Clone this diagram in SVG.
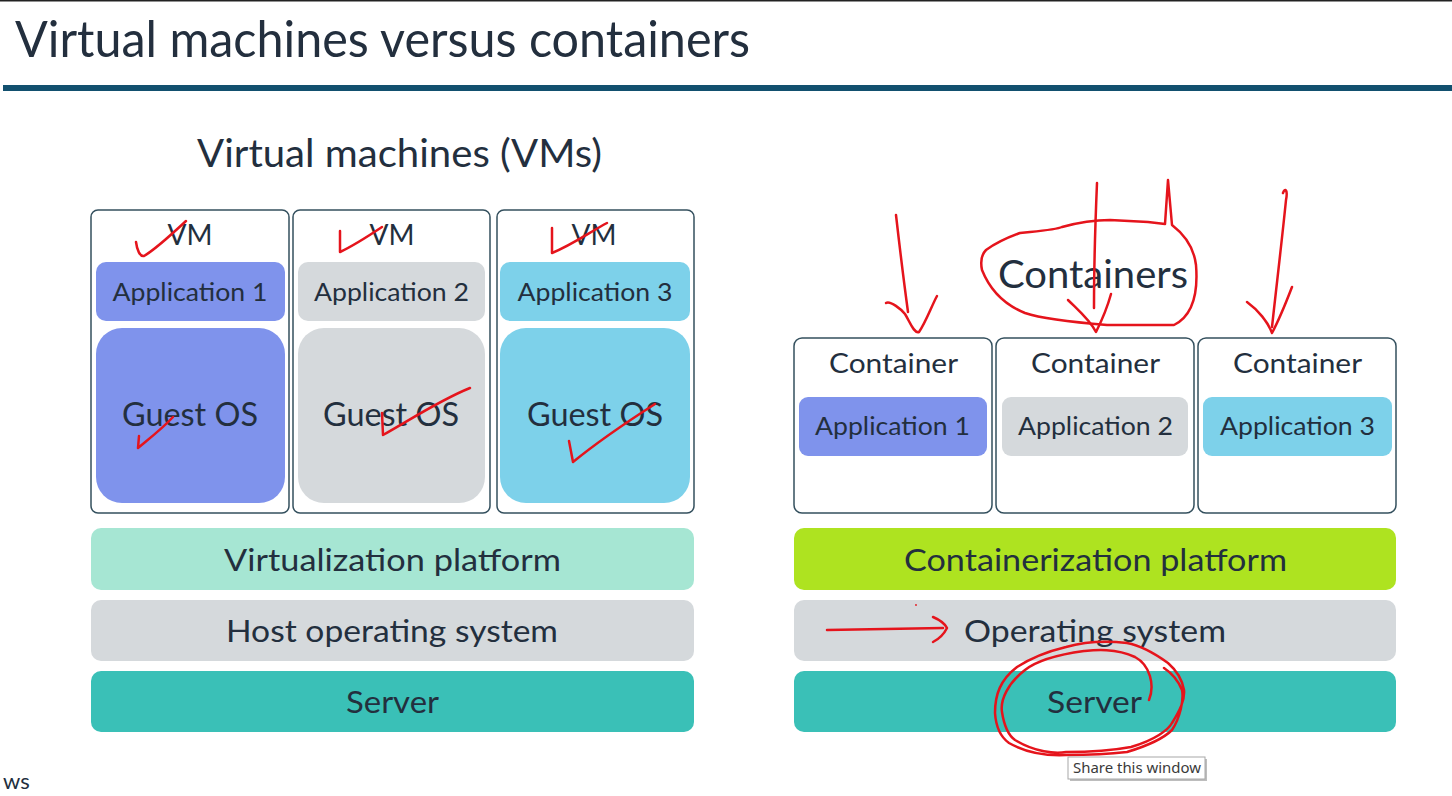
<svg xmlns="http://www.w3.org/2000/svg" width="1452" height="796" viewBox="0 0 1452 796">
  <style>
    .t { font-family: Lato, "Open Sans", "Liberation Sans", sans-serif; fill: #232f3e; }
    .frame { fill: #ffffff; stroke: #34505e; stroke-width: 1.5; }
    .blue { fill: #7f93ec; }
    .gray { fill: #d5d9dc; }
    .cyan { fill: #7dd1ea; }
    .mint { fill: #a6e6d3; }
    .teal { fill: #3ac0b7; }
    .lime { fill: #aee320; }
    .ink { fill: none; stroke: #e5141c; stroke-width: 2.5; stroke-linecap: round; stroke-linejoin: round; }
  </style>

  <rect width="1452" height="796" fill="#ffffff"/>
  <rect x="0" y="0" width="1452" height="1.5" fill="#222"/>

  <!-- heading -->
  <g id="heading">
    <text class="t" x="15" y="57" font-size="50" textLength="735" lengthAdjust="spacingAndGlyphs">Virtual machines versus containers</text>
    <rect x="3" y="85" width="1449" height="6" fill="#12506f"/>
  </g>

  <!-- left stack: virtual machines -->
  <g id="vm-title">
    <text class="t" x="399.5" y="167" font-size="39" text-anchor="middle" textLength="405" lengthAdjust="spacingAndGlyphs">Virtual machines (VMs)</text>
  </g>

  <g id="vm1">
    <rect class="frame" x="91" y="210" width="198" height="303" rx="7"/>
    <text class="t" x="190" y="245" font-size="28" text-anchor="middle">VM</text>
    <rect class="blue" x="96" y="262" width="189" height="59" rx="10"/>
    <text class="t" x="190" y="301" font-size="25" text-anchor="middle" textLength="155" lengthAdjust="spacingAndGlyphs">Application 1</text>
    <rect class="blue" x="96" y="328" width="189" height="175" rx="26"/>
    <text class="t" x="190" y="426" font-size="32" text-anchor="middle" textLength="136" lengthAdjust="spacingAndGlyphs">Guest OS</text>
  </g>

  <g id="vm2">
    <rect class="frame" x="293" y="210" width="197" height="303" rx="7"/>
    <text class="t" x="392" y="245" font-size="28" text-anchor="middle">VM</text>
    <rect class="gray" x="298" y="262" width="187" height="59" rx="10"/>
    <text class="t" x="391.5" y="301" font-size="25" text-anchor="middle" textLength="155" lengthAdjust="spacingAndGlyphs">Application 2</text>
    <rect class="gray" x="298" y="328" width="187" height="175" rx="26"/>
    <text class="t" x="391" y="426" font-size="32" text-anchor="middle" textLength="136" lengthAdjust="spacingAndGlyphs">Guest OS</text>
  </g>

  <g id="vm3">
    <rect class="frame" x="497" y="210" width="197" height="303" rx="7"/>
    <text class="t" x="594" y="245" font-size="28" text-anchor="middle">VM</text>
    <rect class="cyan" x="500" y="262" width="190" height="59" rx="10"/>
    <text class="t" x="595" y="301" font-size="25" text-anchor="middle" textLength="155" lengthAdjust="spacingAndGlyphs">Application 3</text>
    <rect class="cyan" x="500" y="328" width="190" height="175" rx="26"/>
    <text class="t" x="595" y="426" font-size="32" text-anchor="middle" textLength="136" lengthAdjust="spacingAndGlyphs">Guest OS</text>
  </g>

  <g id="virtualization-platform">
    <rect class="mint" x="91" y="528" width="603" height="62" rx="10"/>
    <text class="t" x="392.5" y="571" font-size="31" text-anchor="middle" textLength="337" lengthAdjust="spacingAndGlyphs">Virtualization platform</text>
  </g>
  <g id="host-os">
    <rect class="gray" x="91" y="600" width="603" height="61" rx="10"/>
    <text class="t" x="392" y="642" font-size="31" text-anchor="middle" textLength="332" lengthAdjust="spacingAndGlyphs">Host operating system</text>
  </g>
  <g id="vm-server">
    <rect class="teal" x="91" y="671" width="603" height="61" rx="10"/>
    <text class="t" x="392.5" y="713" font-size="31" text-anchor="middle" textLength="93" lengthAdjust="spacingAndGlyphs">Server</text>
  </g>

  <!-- right stack: containers -->
  <g id="containers-title">
    <text class="t" x="1093" y="288" font-size="38" text-anchor="middle" textLength="190" lengthAdjust="spacingAndGlyphs">Containers</text>
  </g>

  <g id="container1">
    <rect class="frame" x="794" y="338" width="198" height="175" rx="8"/>
    <text class="t" x="893.5" y="373" font-size="27" text-anchor="middle" textLength="129" lengthAdjust="spacingAndGlyphs">Container</text>
    <rect class="blue" x="799" y="397" width="188" height="59" rx="9"/>
    <text class="t" x="892.5" y="435" font-size="25" text-anchor="middle" textLength="155" lengthAdjust="spacingAndGlyphs">Application 1</text>
  </g>
  <g id="container2">
    <rect class="frame" x="996" y="338" width="198" height="175" rx="8"/>
    <text class="t" x="1095.5" y="373" font-size="27" text-anchor="middle" textLength="129" lengthAdjust="spacingAndGlyphs">Container</text>
    <rect class="gray" x="1002" y="397" width="186" height="59" rx="9"/>
    <text class="t" x="1095.5" y="435" font-size="25" text-anchor="middle" textLength="155" lengthAdjust="spacingAndGlyphs">Application 2</text>
  </g>
  <g id="container3">
    <rect class="frame" x="1198" y="338" width="198" height="175" rx="8"/>
    <text class="t" x="1297.5" y="373" font-size="27" text-anchor="middle" textLength="129" lengthAdjust="spacingAndGlyphs">Container</text>
    <rect class="cyan" x="1203" y="397" width="189" height="59" rx="9"/>
    <text class="t" x="1297.5" y="435" font-size="25" text-anchor="middle" textLength="155" lengthAdjust="spacingAndGlyphs">Application 3</text>
  </g>

  <g id="containerization-platform">
    <rect class="lime" x="794" y="528" width="602" height="62" rx="10"/>
    <text class="t" x="1095.5" y="571" font-size="31" text-anchor="middle" textLength="383" lengthAdjust="spacingAndGlyphs">Containerization platform</text>
  </g>
  <g id="container-os">
    <rect class="gray" x="794" y="600" width="602" height="61" rx="10"/>
    <text class="t" x="1095" y="642" font-size="31" text-anchor="middle" textLength="262" lengthAdjust="spacingAndGlyphs">Operating system</text>
  </g>
  <g id="container-server">
    <rect class="teal" x="794" y="671" width="602" height="61" rx="10"/>
    <text class="t" x="1094.5" y="713" font-size="31" text-anchor="middle" textLength="95" lengthAdjust="spacingAndGlyphs">Server</text>
  </g>

  <!-- freehand pen marks -->
  <g id="connectors">
    <!-- ticks over the VM column -->
    <path class="ink" d="M136,242 C137,250 140,257 144,256 C156,249 172,234 186,221"/>
    <path class="ink" d="M340,231 L340,252 C355,245 370,235 382,227"/>
    <path class="ink" d="M552,228 L552,253 C572,245 590,232 607,223"/>
    <path class="ink" d="M139,436 L138,448 C150,438 163,428 173,417"/>
    <path class="ink" d="M382,413 L383,435 C410,420 440,400 470,388"/>
    <path class="ink" d="M569,441 L573,462 C600,440 630,420 655,404"/>

    <!-- arrows down onto the containers -->
    <path class="ink" d="M896,215 C900,250 905,290 908,312"/>
    <path class="ink" d="M886,303 C890,300 902,310 905,314 C910,322 914,334 919,332 C926,322 932,305 937,296"/>
    <path class="ink" d="M1097,183 C1095,230 1094,280 1094,308"/>
    <path class="ink" d="M1068,300 C1078,310 1090,320 1096,332 C1102,320 1108,305 1111,294"/>
    <path class="ink" d="M1283,193 C1285,187 1288,190 1286,200 C1282,240 1276,290 1272,327"/>
    <path class="ink" d="M1247,302 C1258,310 1268,322 1272,333 C1280,318 1287,300 1292,287"/>

    <!-- loop round the heading -->
    <path class="ink" d="M1168,180 L1172,225 C1185,235 1194,248 1196,265 C1198,290 1194,315 1174,325 L1107,325 C1070,322 1040,318 1025,313 C1005,305 990,290 982,270 C980,260 982,254 986,250 C1000,240 1012,236 1020,233 L1030,232 C1050,230 1060,228 1062,227 C1080,222 1095,220 1110,220 L1148,222 L1165,224 L1168,180"/>

    <!-- pointer at the operating system bar -->
    <path class="ink" d="M827,630 L943,628"/>
    <path class="ink" d="M933,617 C940,620 945,624 947,628 C944,634 939,639 933,642"/>
    <circle cx="916" cy="605" r="0.9" fill="#e5141c"/>

    <!-- double loop round the server -->
    <path class="ink" d="M1149,700 C1155,685 1150,665 1135,657 C1115,648 1095,650 1084,651 C1055,655 1035,662 1025,670 C1008,683 1000,700 1002,712 C1004,725 1008,735 1015,740 C1035,752 1055,754 1066,752 C1090,752 1115,750 1131,747 C1155,740 1168,730 1172,723 C1180,710 1185,700 1184,690 C1182,678 1176,670 1168,663 C1150,650 1138,645 1127,643 C1100,640 1080,643 1066,647 C1045,652 1028,660 1017,667 C1000,680 995,695 995,713 C996,728 1002,738 1009,743 C1025,752 1045,756 1066,755 C1090,755 1110,754 1127,752 C1150,745 1165,737 1172,730 C1180,718 1184,700 1182,690 C1178,680 1170,672 1164,668"/>
  </g>

  <!-- tooltip -->
  <g id="tooltip">
    <rect x="1070" y="759" width="137" height="22" fill="#bdbdbd"/>
    <rect x="1068" y="757" width="137" height="22" fill="#ffffff" stroke="#a8a8a8" stroke-width="1"/>
    <text x="1073" y="773" font-family="'Noto Sans', 'Liberation Sans', sans-serif" font-size="14" fill="#3a3a3a" textLength="128" lengthAdjust="spacingAndGlyphs">Share this window</text>
  </g>

  <g id="footer">
    <text class="t" x="3" y="789" font-size="22">ws</text>
  </g>
</svg>
